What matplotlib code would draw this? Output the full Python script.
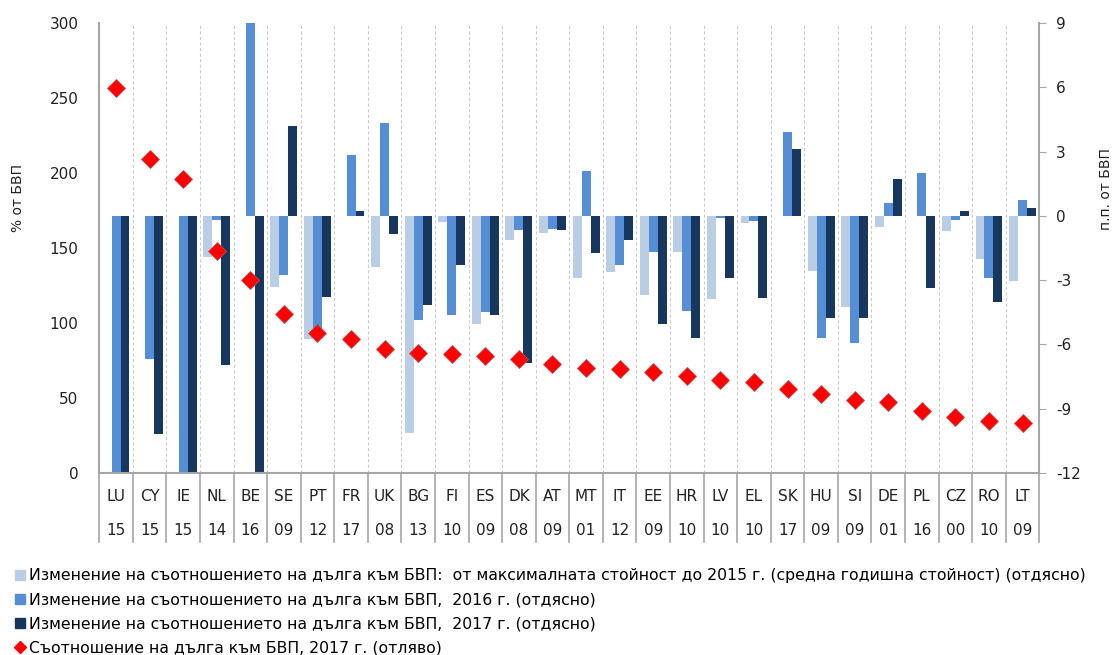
import numpy as np
import matplotlib
matplotlib.use("Agg")
import matplotlib.pyplot as plt
from matplotlib.lines import Line2D
from matplotlib.ticker import FuncFormatter
import matplotlib.transforms as mtransforms

plt.rcParams['font.family'] = ['DejaVu Sans']

countries = ["LU", "CY", "IE", "NL", "BE", "SE", "PT", "FR", "UK", "BG", "FI", "ES", "DK", "AT",
             "MT", "IT", "EE", "HR", "LV", "EL", "SK", "HU", "SI", "DE", "PL", "CZ", "RO", "LT"]
peak_year = ["15", "15", "15", "14", "16", "09", "12", "17", "08", "13", "10", "09", "08", "09",
             "01", "12", "09", "10", "10", "10", "17", "09", "09", "01", "16", "00", "10", "09"]

# change from peak to 2015 (avg per year), p.p. of GDP (right axis)
chg_peak = [np.nan, np.nan, np.nan, -1.94, np.nan, -3.31, -5.75, np.nan, -2.41, -10.12, -0.28, -5.05, -1.13, -0.82,
            -2.89, -2.61, -3.70, -1.68, -3.89, -0.33, np.nan, -2.57, -4.25, -0.54, np.nan, -0.71, -2.02, -3.05]
# change 2016
chg_2016 = [-13.0, -6.70, -13.0, -0.20, 10.0, -2.77, -5.57, 2.83, 4.31, -4.87, -4.63, -4.48, -0.67, -0.61,
            2.09, -2.30, -1.68, -4.45, -0.08, -0.23, 3.92, -5.72, -5.93, 0.62, 2.02, -0.20, -2.89, 0.76]
# change 2017
chg_2017 = [-13.0, -10.20, -13.0, -6.97, -13.0, 4.19, -3.78, 0.22, -0.87, -4.17, -2.30, -4.63, -6.89, -0.67,
            -1.75, -1.13, -5.05, -5.72, -2.89, -3.83, 3.10, -4.79, -4.79, 1.70, -3.36, 0.22, -4.04, 0.35]
# debt ratio 2017, % of GDP (left axis)
debt_2017 = [256.7, 209.6, 195.8, 147.8, 128.5, 106.2, 93.3, 89.6, 82.9, 80.0, 79.1, 78.0, 76.3, 72.5,
             70.3, 69.1, 67.3, 64.5, 61.8, 60.7, 55.8, 52.9, 48.5, 47.3, 41.3, 37.3, 34.5, 33.3]

labels = [
    "Изменение на съотношението на дълга към БВП:  от максималната стойност до 2015 г. (средна годишна стойност) (отдясно)",
    "Изменение на съотношението на дълга към БВП,  2016 г. (отдясно)",
    "Изменение на съотношението на дълга към БВП,  2017 г. (отдясно)",
    "Съотношение на дълга към БВП, 2017 г. (отляво)",
]
c_light, c_mid, c_dark, c_red = "#B9CDE5", "#558ED5", "#17375E", "#FF0000"
grey = "#A6A6A6"
txt = "#222222"

fig = plt.figure(figsize=(11.18, 6.55), dpi=100)
ax = fig.add_axes([0.0888, 0.2779, 0.8408, 0.687])
ax2 = ax.twinx()
x = np.arange(len(countries))
w = 0.8 / 3

# bars on the right-hand scale
ax.bar(x - w, chg_peak, w, color=c_light, zorder=2)
ax.bar(x, chg_2016, w, color=c_mid, zorder=2)
ax.bar(x + w, chg_2017, w, color=c_dark, zorder=2)
ax.set_xlim(-0.5, len(countries) - 0.5)
ax.set_ylim(-12, 9)
ax.set_yticks(np.arange(-12, 10, 3))
ax.yaxis.set_major_formatter(FuncFormatter(lambda v, p: f"{int(v)}"))
ax.set_xticks([])
for b in x[:-1] + 0.5:
    ax.axvline(b, color="#CCCCCC", lw=0.8, ls=(0, (3, 2)), zorder=1)

# diamonds on the left-hand scale
ax2.plot(x, debt_2017, ls="none", marker="D", ms=9.5, mfc=c_red, mec="#C0504D", mew=0.6, zorder=5)
ax2.set_ylim(0, 300)
ax2.set_yticks(np.arange(0, 301, 50))

ax.yaxis.tick_right()
ax.set_ylabel("п.п. от БВП", fontsize=10, color=txt)
ax.yaxis.set_label_position("right")
ax.yaxis.set_label_coords(1.063, 0.63)
ax.tick_params(axis="y", direction="out", length=5, color=grey, labelsize=11, pad=7, labelcolor=txt)

ax2.yaxis.tick_left()
ax2.set_ylabel("% от БВП", fontsize=10, color=txt)
ax2.yaxis.set_label_position("left")
ax2.yaxis.set_label_coords(-0.079, 0.61)
ax2.tick_params(axis="y", length=0, labelsize=11, pad=15, labelcolor=txt)

for a in (ax, ax2):
    for s in a.spines.values():
        s.set_visible(False)
ax.spines["bottom"].set_visible(True)
ax.spines["right"].set_visible(True)
ax2.spines["left"].set_visible(True)
for s in (ax.spines["bottom"], ax.spines["right"], ax2.spines["left"]):
    s.set_color(grey)
    s.set_linewidth(1.5)

# two-row category table under the axis
trans = mtransforms.blended_transform_factory(ax.transData, ax.transAxes)
for b in np.arange(-0.5, len(countries), 1.0):
    ax.plot([b, b], [0, -0.153], transform=trans, color=grey, lw=1.2, clip_on=False)
for i in x:
    ax.text(i, -0.053, countries[i], transform=trans, ha="center", va="center", fontsize=11, color=txt)
    ax.text(i, -0.127, peak_year[i], transform=trans, ha="center", va="center", fontsize=11, color=txt)

handles = [
    Line2D([], [], ls="none", marker="s", ms=7, mfc=c_light, mec=c_light),
    Line2D([], [], ls="none", marker="s", ms=7, mfc=c_mid, mec=c_mid),
    Line2D([], [], ls="none", marker="s", ms=7, mfc=c_dark, mec=c_dark),
    Line2D([], [], ls="none", marker="D", ms=6, mfc=c_red, mec=c_red),
]
fig.legend(handles, labels, loc="upper left", bbox_to_anchor=(0.008, 0.142), frameon=False,
           fontsize=11.3, handlelength=0.6, handletextpad=0.3, labelspacing=0.58, borderaxespad=0)

fig.savefig("out.png", dpi=100)
